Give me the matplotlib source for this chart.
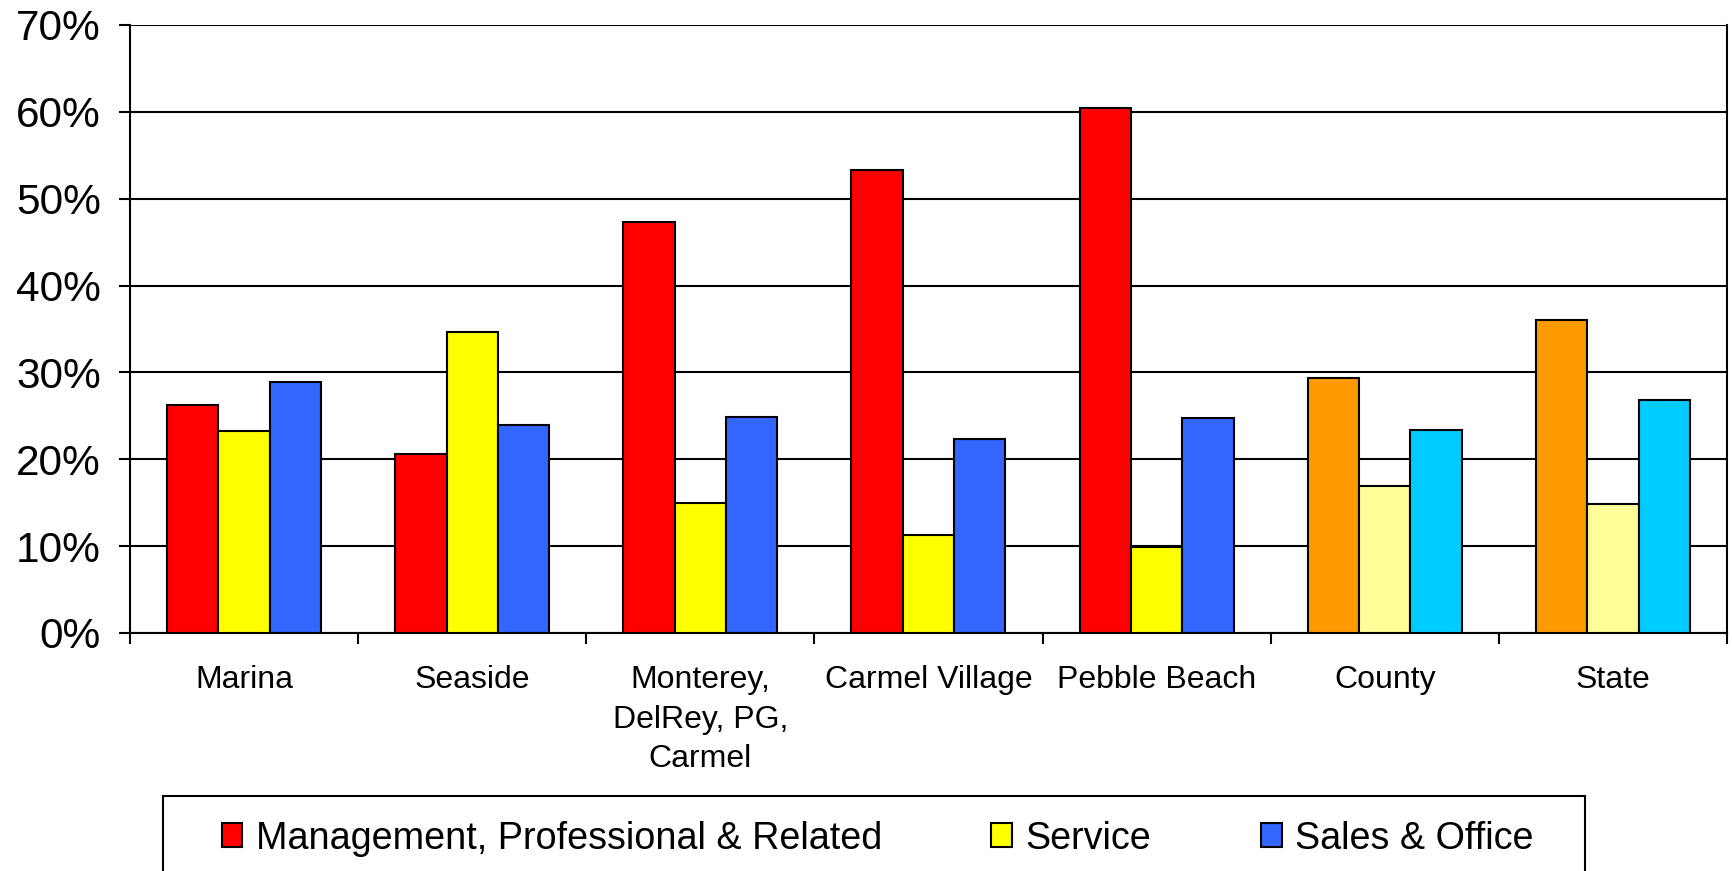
"""Occupation mix by area: grouped bar chart."""
import matplotlib
matplotlib.use("Agg")
import matplotlib.pyplot as plt
import numpy as np
from matplotlib.patches import Rectangle

plt.rcParams["font.family"] = ["Liberation Sans", "DejaVu Sans"]

areas = ["Marina", "Seaside", "Monterey,\nDelRey, PG,\nCarmel", "Carmel Village",
         "Pebble Beach", "County", "State"]
management = [26.3, 20.6, 47.3, 53.3, 60.4, 29.4, 36.0]
service = [23.3, 34.7, 15.0, 11.3, 9.9, 16.9, 14.9]
sales_office = [28.9, 23.9, 24.9, 22.3, 24.7, 23.4, 26.8]
series_names = ["Management, Professional & Related", "Service", "Sales & Office"]
y_ticks = [0, 10, 20, 30, 40, 50, 60, 70]

# local areas use the bright palette, county/state the lighter one
local_colors = ["#ff0000", "#ffff00", "#3366ff"]
region_colors = ["#ff9900", "#ffff99", "#00ccff"]
n_local = 5

fig = plt.figure(figsize=(17.33, 8.71), dpi=100)
ax = fig.add_axes([0.075, 0.2733, 0.9215, 0.698])

lw = 1.5
x = np.arange(len(areas)) + 0.5
w = 0.225
for i, vals in enumerate([management, service, sales_office]):
    colors = [local_colors[i] if k < n_local else region_colors[i] for k in range(len(areas))]
    ax.bar(x + (i - 1) * w, vals, width=w, color=colors, edgecolor="black",
           linewidth=lw, zorder=3, label=series_names[i])

ax.set_xlim(0, len(areas))
ax.set_ylim(0, 70)
ax.set_yticks(y_ticks)
ax.set_yticklabels([f"{t}%" for t in y_ticks])
ax.yaxis.grid(True, color="black", linewidth=lw, zorder=1)
ax.tick_params(axis="y", length=8, width=lw, pad=13, labelsize=30.5)

ax.set_xticks(np.arange(len(areas) + 1))
ax.set_xticklabels([])
ax.set_xticks(x, minor=True)
ax.set_xticklabels(areas, minor=True, fontsize=23, linespacing=1.42)
ax.tick_params(axis="x", which="major", length=8, width=lw)
ax.tick_params(axis="x", which="minor", length=0, pad=23)

ax.spines["top"].set_visible(False)
for side in ("left", "bottom", "right"):
    ax.spines[side].set_linewidth(lw)

# legend box runs off the bottom edge
fig.patches.append(Rectangle((163 / 1733, -0.05), (1585 - 163) / 1733, 0.05 + (871 - 796) / 871,
                             transform=fig.transFigure, fill=False, edgecolor="black",
                             linewidth=lw))
handles = [Rectangle((0, 0), 1, 1, facecolor=c, edgecolor="black", linewidth=lw)
           for c in local_colors]
fig.legend(handles, series_names, loc="center left", bbox_to_anchor=(0.117, 0.037),
           ncol=3, frameon=False, fontsize=27.2, handlelength=0.55, handleheight=0.6,
           handletextpad=0.35, columnspacing=2.9, borderpad=0)

fig.savefig("out.png", dpi=100)
